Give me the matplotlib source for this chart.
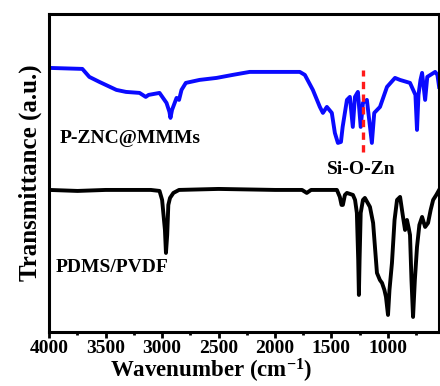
import numpy as np
import matplotlib
matplotlib.use('Agg')
from matplotlib import pyplot as plt
from matplotlib.ticker import MultipleLocator

plt.rcParams['font.family'] = 'Liberation Serif'
plt.rcParams['font.weight'] = 'bold'
plt.rcParams['axes.labelweight'] = 'bold'
plt.rcParams['mathtext.fontset'] = 'custom'
plt.rcParams['mathtext.rm'] = 'Liberation Serif:bold'
plt.rcParams['mathtext.it'] = 'Liberation Serif:bold'
plt.rcParams['mathtext.bf'] = 'Liberation Serif:bold'

# FTIR spectra, transmittance in arbitrary units (offset curves)
wn_zn = [4000, 3707, 3645, 3556, 3405, 3320, 3200, 3145, 3120, 3023, 2961,
         2935, 2926, 2912, 2872, 2850, 2828, 2790, 2668, 2517, 2375, 2224,
         2073, 1931, 1780, 1735, 1664, 1602, 1575, 1540, 1496, 1469, 1442,
         1415, 1400, 1362, 1336, 1310, 1291, 1265, 1240, 1220, 1185, 1175,
         1141, 1120, 1069, 1007, 936, 892, 803, 755, 741, 728, 710, 696,
         669, 650, 580, 560, 545]
t_zn = [264, 263, 255, 250, 242, 240, 239, 235, 237, 239, 229,
        220, 214, 222, 234, 232, 242, 249, 252, 254, 257, 260,
        260, 260, 260, 257, 242, 225, 219, 225, 219, 199, 189,
        190, 205, 232, 235, 205, 235, 240, 205, 229, 232, 222,
        189, 219, 225, 245, 254, 252, 249, 237, 202, 237, 252, 259,
        232, 255, 260, 257, 245]

wn_pv = [4000, 3750, 3500, 3100, 3023, 3000, 2975, 2966, 2955, 2945, 2930,
         2900, 2850, 2500, 2000, 1760, 1718, 1680, 1451, 1425, 1410, 1398,
         1380, 1362, 1309, 1290, 1274, 1262, 1256, 1250, 1240, 1220, 1203,
         1158, 1130, 1096, 1070, 1051, 1030, 1016, 998, 985, 963, 940,
         918, 891, 865, 847, 830, 815, 803, 790, 776, 760, 741,
         720, 696, 680, 669, 643, 620, 598, 570, 545]
t_pv = [142, 141, 142, 142, 141, 132, 102, 79, 97, 127, 134,
        139, 142, 143, 142, 142, 139, 142, 142, 135, 127, 127,
        137, 139, 137, 132, 119, 72, 37, 72, 119, 132, 134,
        125, 109, 59, 52, 49, 42, 35, 17, 42, 69, 112,
        132, 135, 115, 102, 112, 104, 97, 52, 15, 52, 85,
        107, 115, 109, 105, 109, 122, 132, 137, 142]

fig = plt.figure(figsize=(4.4, 3.86), dpi=100)
ax = fig.add_axes([0.112, 0.14, 0.886, 0.824])

ax.plot(wn_zn, t_zn, color='#0a0aff', lw=2.8)
ax.plot(wn_pv, t_pv, color='black', lw=2.8)

# Si-O-Zn band marker
ax.plot([1220, 1220], [180, 262], color='#ff1a1a', lw=2.4, ls=(0, (2.2, 1.6)))

ax.text(3911, 193, 'P-ZNC@MMMs', fontsize=14, va='center', ha='left')
ax.text(1238, 162, 'Si-O-Zn', fontsize=14, va='center', ha='center')
ax.text(3947, 64, 'PDMS/PVDF', fontsize=14, va='center', ha='left')

ax.set_xlim(4000, 545)
ax.set_ylim(0, 318)
ax.set_yticks([])
ax.xaxis.set_major_locator(MultipleLocator(500))
ax.xaxis.set_minor_locator(MultipleLocator(250))
ax.tick_params(axis='x', which='major', direction='out', length=4, width=2,
               labelsize=14, pad=2)
ax.tick_params(axis='x', which='minor', direction='out', length=2.5, width=2)
for lbl in ax.get_xticklabels():
    lbl.set_fontweight('bold')
for s in ax.spines.values():
    s.set_linewidth(2.2)

ax.set_xlabel('Wavenumber (cm$^{-1}$)', fontsize=16.5, x=0.415, labelpad=0)
ax.set_ylabel('Transmittance (a.u.)', fontsize=18, labelpad=5)

fig.savefig('out.png', dpi=100)
